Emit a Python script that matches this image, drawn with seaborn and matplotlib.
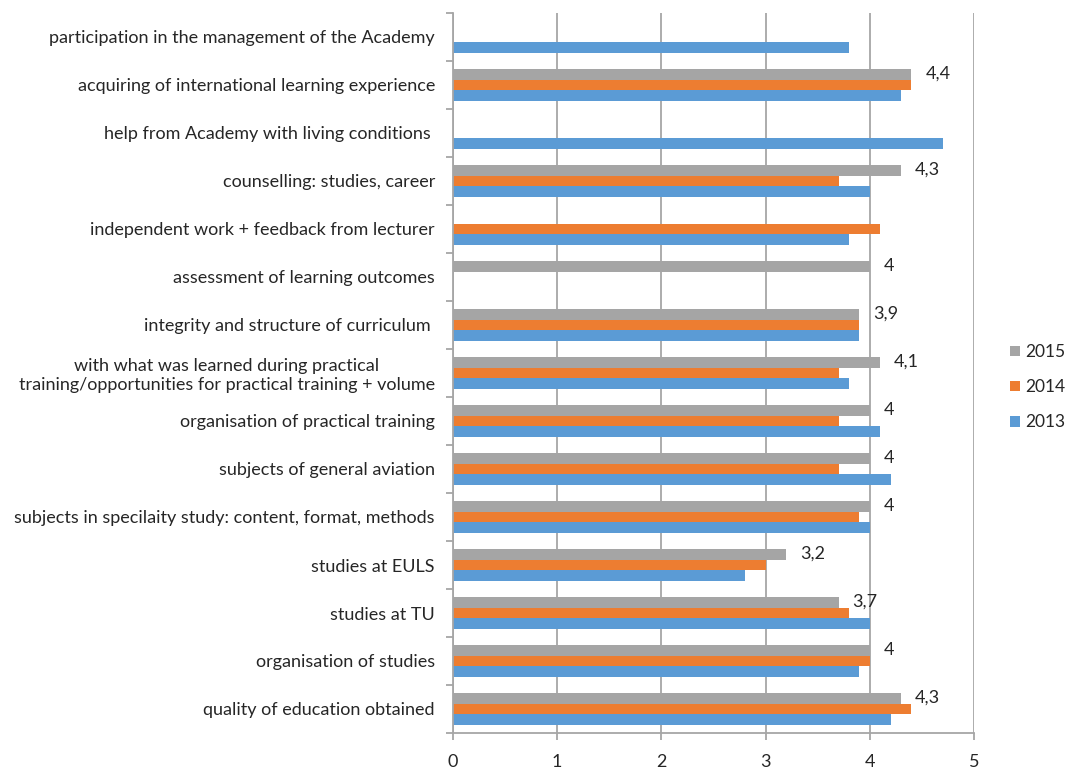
import numpy as np
import pandas as pd
import matplotlib
matplotlib.use("Agg")
import matplotlib.pyplot as plt
import seaborn as sns

categories = [
    "participation in the management of the Academy",
    "acquiring of international learning experience",
    "help from Academy with living conditions ",
    "counselling: studies, career",
    "independent work + feedback from lecturer",
    "assessment of learning outcomes",
    "integrity and structure of curriculum ",
    "with what was learned during practical\ntraining/opportunities for practical training + volume",
    "organisation of practical training",
    "subjects of general aviation",
    "subjects in specilaity study: content, format, methods",
    "studies at EULS",
    "studies at TU",
    "organisation of studies",
    "quality of education obtained",
]
y2015 = [np.nan, 4.4, np.nan, 4.3, np.nan, 4.0, 3.9, 4.1, 4.0, 4.0, 4.0, 3.2, 3.7, 4.0, 4.3]
y2014 = [np.nan, 4.4, np.nan, 3.7, 4.1, np.nan, 3.9, 3.7, 3.7, 3.7, 3.9, 3.0, 3.8, 4.0, 4.4]
y2013 = [3.8, 4.3, 4.7, 4.0, 3.8, np.nan, 3.9, 3.8, 4.1, 4.2, 4.0, 2.8, 4.0, 3.9, 4.2]
years = ["2015", "2014", "2013"]
colors = ["#A5A5A5", "#ED7D31", "#5B9BD5"]

df = pd.DataFrame({"category": categories, "2015": y2015, "2014": y2014, "2013": y2013})
df = df.melt(id_vars="category", var_name="year", value_name="value").dropna()

sns.set_style("white")
plt.rcParams["font.family"] = ["Lato", "DejaVu Sans"]
text_col = "#262626"
axis_col = "#A6A6A6"
fs = 13

fig = plt.figure(figsize=(10.67, 7.69), dpi=100)
ax = fig.add_axes([453 / 1067, 36 / 769, 521 / 1067, 720 / 769])

sns.barplot(data=df, x="value", y="category", hue="year", order=categories,
            hue_order=years, palette=colors, orient="h", width=0.68,
            saturation=1, linewidth=0, errorbar=None, ax=ax)

ax.set_xlim(0, 5)
ax.set_ylim(14.5, -0.5)
ax.set_xticks(range(6))
ax.set_xlabel("")
ax.set_ylabel("")
ax.xaxis.grid(True, color=axis_col, lw=1.3)
ax.set_axisbelow(True)
for s in ["top", "right"]:
    ax.spines[s].set_visible(False)
for s in ["left", "bottom"]:
    ax.spines[s].set_color(axis_col)
    ax.spines[s].set_linewidth(1.3)

ax.set_yticks(np.arange(-0.5, 15, 1), minor=True)
ax.tick_params(axis="y", which="major", length=0, pad=13, labelsize=fs, labelcolor=text_col)
ax.tick_params(axis="y", which="minor", left=True, length=5, width=1.3, color=axis_col)
ax.tick_params(axis="x", bottom=True, length=5, width=1.3, color=axis_col, pad=10,
               labelsize=fs, labelcolor=text_col)
for lab in ax.get_yticklabels():
    lab.set_multialignment("center")

# data labels only for 2015
c2015 = ax.containers[0]
ax.bar_label(c2015, labels=[f"{b.get_width():g}".replace(".", ",") for b in c2015],
             padding=10, fontsize=fs, color=text_col)

sns.move_legend(ax, "center left", bbox_to_anchor=(1.056, 0.48), frameon=False, title=None,
                handlelength=0.55, handleheight=0.55, labelspacing=1.1, fontsize=12.5,
                borderaxespad=0, handletextpad=0.3)
for t in ax.get_legend().get_texts():
    t.set_color(text_col)

fig.savefig("out.png", dpi=100)
